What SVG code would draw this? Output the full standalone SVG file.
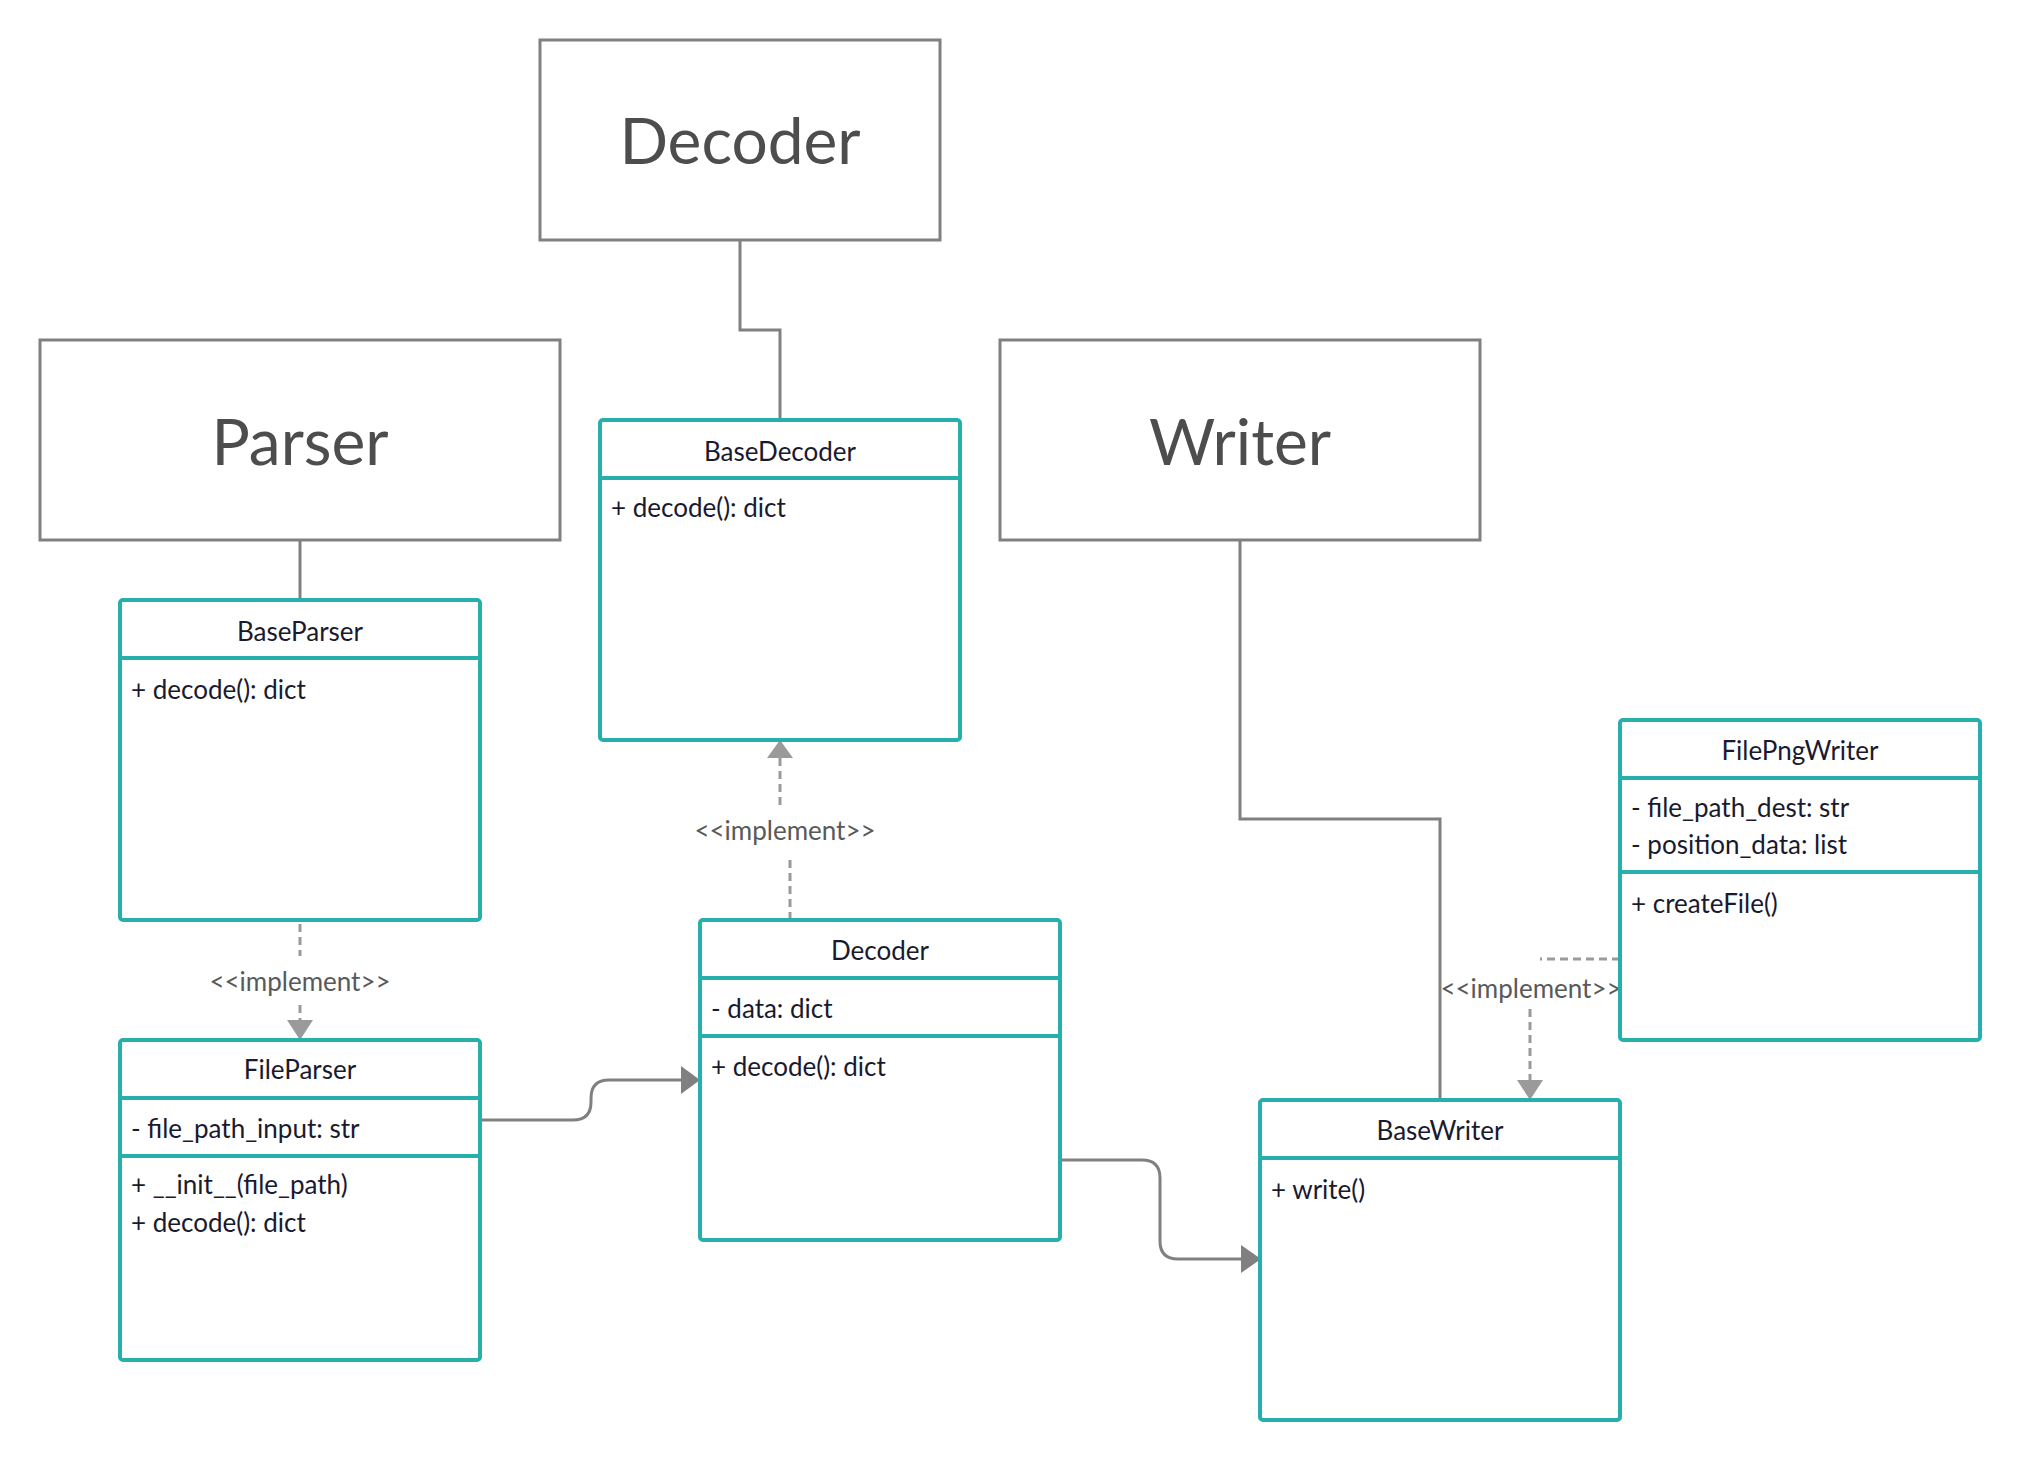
<svg xmlns="http://www.w3.org/2000/svg" width="2020" height="1460" viewBox="0 0 2020 1460">
<style>
.pkg{fill:#fff;stroke:#808080;stroke-width:3}
.pkgt{font-family:Lato,"Liberation Sans",sans-serif;font-size:64px;fill:#4d4d4d;text-anchor:middle}
.cls{fill:#fff;stroke:#27afab;stroke-width:4}
.sep{stroke:#27afab;stroke-width:4}
.ct{font-family:Lato,"Liberation Sans",sans-serif;font-size:26px;fill:#1a1a2e}
.mid{text-anchor:middle}
.solid{fill:none;stroke:#808080;stroke-width:3}
.dash{fill:none;stroke:#9a9a9a;stroke-width:3;stroke-dasharray:8 5}
.ah{fill:#808080}
.dh{fill:#9a9a9a}
.lbl{font-family:Lato,"Liberation Sans",sans-serif;font-size:26px;fill:#595959;text-anchor:middle}
</style>
<rect width="2020" height="1460" fill="#fff"/>
<g id="connectors">
<path class="solid" d="M740,240 V330 H780 V420"/>
<path class="solid" d="M300,540 V600"/>
<path class="solid" d="M1240,540 V819 H1440 V1100"/>
<path class="solid" d="M480,1120 H573 Q591,1120 591,1102 V1098 Q591,1080 609,1080 H684"/>
<polygon class="ah" points="681,1066 700,1080 681,1094"/>
<path class="solid" d="M1060,1160 H1142 Q1160,1160 1160,1178 V1241 Q1160,1259 1178,1259 H1244"/>
<polygon class="ah" points="1241,1245 1261,1259 1241,1273"/>
<path class="dash" d="M300,924 V956"/>
<path class="dash" d="M300,1005 V1021"/>
<polygon class="dh" points="287,1020 313,1020 300,1040"/>
<text class="lbl" x="300" y="991">&lt;&lt;implement&gt;&gt;</text>
<path class="dash" d="M790,920 V855"/>
<path class="dash" d="M780,805 V758"/>
<polygon class="dh" points="767,758 793,758 780,740"/>
<text class="lbl" x="785" y="840">&lt;&lt;implement&gt;&gt;</text>
<path class="dash" d="M1620,959 H1540"/>
<path class="dash" d="M1530,1009 V1080"/>
<polygon class="dh" points="1517,1080 1543,1080 1530,1100"/>
<text class="lbl" x="1531" y="998">&lt;&lt;implement&gt;&gt;</text>
</g>
<g id="pkg-decoder">
<rect class="pkg" x="540" y="40" width="400" height="200"/>
<text class="pkgt" x="740" y="164">Decoder</text>
</g>
<g id="pkg-parser">
<rect class="pkg" x="40" y="340" width="520" height="200"/>
<text class="pkgt" x="300" y="465">Parser</text>
</g>
<g id="pkg-writer">
<rect class="pkg" x="1000" y="340" width="480" height="200"/>
<text class="pkgt" x="1240" y="465">Writer</text>
</g>
<g id="BaseParser">
<rect class="cls" x="120" y="600" width="360" height="320" rx="3"/>
<line class="sep" x1="120" y1="658" x2="480" y2="658"/>
<text class="ct mid" x="300" y="641">BaseParser</text>
<text class="ct" x="131" y="699">+ decode(): dict</text>
</g>
<g id="BaseDecoder">
<rect class="cls" x="600" y="420" width="360" height="320" rx="3"/>
<line class="sep" x1="600" y1="478" x2="960" y2="478"/>
<text class="ct mid" x="780" y="461">BaseDecoder</text>
<text class="ct" x="611" y="517">+ decode(): dict</text>
</g>
<g id="FileParser">
<rect class="cls" x="120" y="1040" width="360" height="320" rx="3"/>
<line class="sep" x1="120" y1="1098" x2="480" y2="1098"/>
<line class="sep" x1="120" y1="1156" x2="480" y2="1156"/>
<text class="ct mid" x="300" y="1079">FileParser</text>
<text class="ct" x="131" y="1138">- file_path_input: str</text>
<text class="ct" x="131" y="1194">+ __init__(file_path)</text>
<text class="ct" x="131" y="1232">+ decode(): dict</text>
</g>
<g id="Decoder">
<rect class="cls" x="700" y="920" width="360" height="320" rx="3"/>
<line class="sep" x1="700" y1="978" x2="1060" y2="978"/>
<line class="sep" x1="700" y1="1036" x2="1060" y2="1036"/>
<text class="ct mid" x="880" y="960">Decoder</text>
<text class="ct" x="711" y="1018">- data: dict</text>
<text class="ct" x="711" y="1076">+ decode(): dict</text>
</g>
<g id="BaseWriter">
<rect class="cls" x="1260" y="1100" width="360" height="320" rx="3"/>
<line class="sep" x1="1260" y1="1158" x2="1620" y2="1158"/>
<text class="ct mid" x="1440" y="1140">BaseWriter</text>
<text class="ct" x="1271" y="1199">+ write()</text>
</g>
<g id="FilePngWriter">
<rect class="cls" x="1620" y="720" width="360" height="320" rx="3"/>
<line class="sep" x1="1620" y1="778" x2="1980" y2="778"/>
<line class="sep" x1="1620" y1="872" x2="1980" y2="872"/>
<text class="ct mid" x="1800" y="760">FilePngWriter</text>
<text class="ct" x="1631" y="817">- file_path_dest: str</text>
<text class="ct" x="1631" y="854">- position_data: list</text>
<text class="ct" x="1631" y="913">+ createFile()</text>
</g>
</svg>
